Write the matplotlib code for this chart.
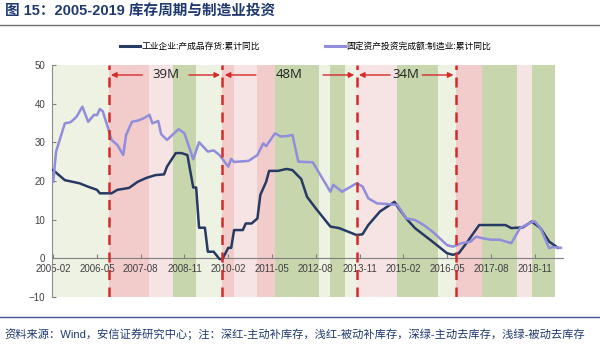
import matplotlib
matplotlib.use("Agg")
import matplotlib.pyplot as plt
from matplotlib.lines import Line2D

plt.rcParams["font.family"] = ["Liberation Sans", "Noto Sans CJK SC", "DejaVu Sans"]

# ---- data ----
inv_dates = ["2005-02", "2005-06", "2005-11", "2006-02", "2006-05", "2006-06", "2006-10",
             "2006-12", "2007-04", "2007-07", "2007-10", "2008-01", "2008-04", "2008-05",
             "2008-08", "2008-10", "2008-12", "2009-02", "2009-03", "2009-04", "2009-06",
             "2009-07", "2009-09", "2009-11", "2009-12", "2010-02", "2010-03", "2010-04",
             "2010-07", "2010-08", "2010-10", "2010-12", "2011-01", "2011-03", "2011-04",
             "2011-07", "2011-10", "2011-12", "2012-03", "2012-05", "2012-08", "2013-01",
             "2013-04", "2013-10", "2013-12", "2014-02", "2014-06", "2014-11", "2014-12",
             "2015-03", "2015-06", "2015-12", "2016-05", "2016-07", "2016-09", "2016-12",
             "2017-04", "2017-08", "2018-01", "2018-03", "2018-07", "2018-10", "2019-01",
             "2019-04", "2019-07"]
inv_vals = [22.8, 20.2, 19.4, 18.5, 17.7, 16.8, 16.8,
            17.7, 18.2, 19.8, 20.8, 21.5, 21.7, 23.7,
            27.2, 27.2, 26.7, 18.3, 18.3, 7.9, 7.9,
            1.7, 1.7, -0.2, -0.2, 2.7, 2.7, 7.3,
            7.3, 9.0, 9.0, 10.3, 16.4, 19.8, 22.6,
            22.6, 23.1, 22.8, 20.5, 15.9, 12.9, 8.2,
            7.8, 6.0, 6.2, 8.6, 12.1, 14.6, 13.4,
            10.3, 7.8, 4.3, 1.3, 0.9, 1.3, 4.3,
            8.6, 8.6, 8.6, 7.8, 8.0, 9.5, 7.8,
            4.3, 2.7]

fai_dates = ["2005-02", "2005-03", "2005-06", "2005-08", "2005-10", "2005-12", "2006-02",
             "2006-04", "2006-05", "2006-06", "2006-07", "2006-09", "2006-10", "2006-12",
             "2007-02", "2007-03", "2007-05", "2007-07", "2007-09", "2007-11", "2007-12",
             "2008-02", "2008-03", "2008-05", "2008-09", "2008-11", "2009-02", "2009-04",
             "2009-07", "2009-09", "2009-11", "2010-02", "2010-03", "2010-04", "2010-09",
             "2010-12", "2011-02", "2011-03", "2011-06", "2011-08", "2011-10", "2011-12",
             "2012-02", "2012-07", "2013-01", "2013-02", "2013-05", "2013-10", "2013-12",
             "2014-02", "2014-05", "2014-09", "2014-12", "2015-03", "2015-06", "2015-09",
             "2015-12", "2016-05", "2016-07", "2016-10", "2017-01", "2017-03", "2017-05",
             "2017-08", "2017-11", "2018-03", "2018-06", "2018-09", "2018-11", "2019-01",
             "2019-04", "2019-05", "2019-08"]
fai_vals = [19.8, 27.6, 34.9, 35.2, 36.6, 39.2, 35.3,
            37.1, 37.0, 38.6, 38.0, 33.2, 30.6, 29.3,
            26.7, 31.9, 35.3, 35.6, 36.2, 37.1, 34.9,
            35.5, 32.1, 30.6, 33.4, 32.3, 25.6, 30.0,
            27.6, 27.9, 26.7, 23.7, 25.7, 24.9, 25.2,
            26.7, 29.7, 29.0, 32.3, 31.5, 31.6, 31.9,
            25.0, 24.8, 17.2, 19.0, 17.2, 19.4, 18.6,
            15.5, 14.2, 14.0, 13.8, 10.3, 9.9, 8.6,
            6.9, 3.4, 3.0, 3.9, 4.3, 5.6, 5.2,
            4.8, 4.8, 3.9, 7.8, 9.0, 9.6, 7.8,
            2.6, 2.9, 2.7]

# background phases: DR 主动补库存, LR 被动补库存, DG 主动去库存, LG 被动去库存
phase_edges = ["2005-02", "2006-09", "2007-11", "2008-07", "2009-03", "2009-12", "2010-04",
               "2010-12", "2011-06", "2012-09", "2013-01", "2013-06", "2013-10", "2014-12",
               "2016-02", "2016-08", "2017-05", "2018-05", "2018-10", "2019-06"]
phase_kind = ["LG", "DR", "LR", "DG", "LG", "DR", "LR", "DR", "DG", "LG",
              "DG", "LG", "LR", "DG", "LG", "DR", "DG", "LR", "DG"]

cycle_marks = ["2006-09", "2009-12", "2013-10", "2016-08"]
cycle_labels = ["39M", "48M", "34M"]

tick_labels = ["2005-02", "2006-05", "2007-08", "2008-11", "2010-02", "2011-05",
               "2012-08", "2013-11", "2015-02", "2016-05", "2017-08", "2018-11"]

name_inv = "工业企业:产成品存货:累计同比"
name_fai = "固定资产投资完成额:制造业:累计同比"


def mi(s):
    y, m = s.split("-")
    return (int(y) - 2005) * 12 + int(m) - 2


phase_col = {"DR": "#f2cbcb", "LR": "#f6e3e3", "DG": "#c7d6ad", "LG": "#eef2e3"}
RED = "#d42a2a"

fig = plt.figure(figsize=(6, 3.51), dpi=100)
ax = fig.add_axes([0.0867, 0.154, 0.851, 0.661])

for a, b, k in zip(phase_edges[:-1], phase_edges[1:], phase_kind):
    ax.axvspan(mi(a), mi(b), color=phase_col[k], lw=0, zorder=0)

ax.plot([mi(d) for d in inv_dates], inv_vals, color="#263a63", lw=1.8, zorder=3)
ax.plot([mi(d) for d in fai_dates], fai_vals, color="#908ddb", lw=1.8, zorder=3)

for d in cycle_marks:
    ax.axvline(mi(d), color=RED, lw=1.8, ls=(0, (4, 3)), zorder=4)

ya = 47.4
for a, b, lab in zip(cycle_marks[:-1], cycle_marks[1:], cycle_labels):
    xa, xb = mi(a), mi(b)
    ax.annotate("", xy=(xa + 0.8, ya), xytext=(xa + 11.5, ya),
                arrowprops=dict(arrowstyle="-|>", color=RED, lw=1.0, mutation_scale=8,
                                shrinkA=0, shrinkB=0), zorder=5)
    ax.annotate("", xy=(xb - 0.8, ya), xytext=(xb - 11.5, ya),
                arrowprops=dict(arrowstyle="-|>", color=RED, lw=1.0, mutation_scale=8,
                                shrinkA=0, shrinkB=0), zorder=5)
    ax.text((xa + xb) / 2, ya, lab, ha="center", va="center", fontsize=9.5,
            color="#222222", family=["Open Sans", "DejaVu Sans"], zorder=5)

ax.set_xlim(-0.4, 174.6)
ax.set_ylim(-10, 50)
ax.set_yticks(range(-10, 51, 10))
ax.set_xticks(range(0, 15 * len(tick_labels), 15))
ax.set_xticklabels(tick_labels)

for s in ["top", "right"]:
    ax.spines[s].set_visible(False)
ax.spines["left"].set_color("#8c8c8c")
ax.spines["bottom"].set_color("#7f7f7f")
ax.spines["bottom"].set_position(("data", 0))
ax.spines["bottom"].set_zorder(2)
ax.tick_params(axis="both", direction="in", length=3, color="#7f7f7f",
               labelsize=7, labelcolor="#404040")
ax.tick_params(axis="x", pad=4)
ax.tick_params(axis="y", pad=5)

handles = [Line2D([], [], color="#263a63", lw=2.2), Line2D([], [], color="#908ddb", lw=2.2)]
ax.legend(handles, [name_inv, name_fai], ncol=2, loc="center",
          bbox_to_anchor=(0.497, 1.078), frameon=False, fontsize=6.3,
          handlelength=2.2, handletextpad=0.2, columnspacing=7.5)

fig.text(0.008, 0.968, "图 15：2005-2019 库存周期与制造业投资", fontsize=10.5,
         fontweight="bold", color="#1f3a70", va="center", ha="left")
fig.add_artist(Line2D([0, 1], [1 - 25 / 351] * 2, color="#6d6d6d", lw=1.0))
fig.add_artist(Line2D([0, 1], [1 - 317 / 351] * 2, color="#3d5a8a", lw=1.0))
fig.text(0.008, 1 - 334 / 351,
         "资料来源：Wind，安信证券研究中心；注：深红-主动补库存，浅红-被动补库存，深绿-主动去库存，浅绿-被动去库存",
         fontsize=8.1, color="#1f3a70", va="center", ha="left")

fig.savefig("out.png", dpi=100)
